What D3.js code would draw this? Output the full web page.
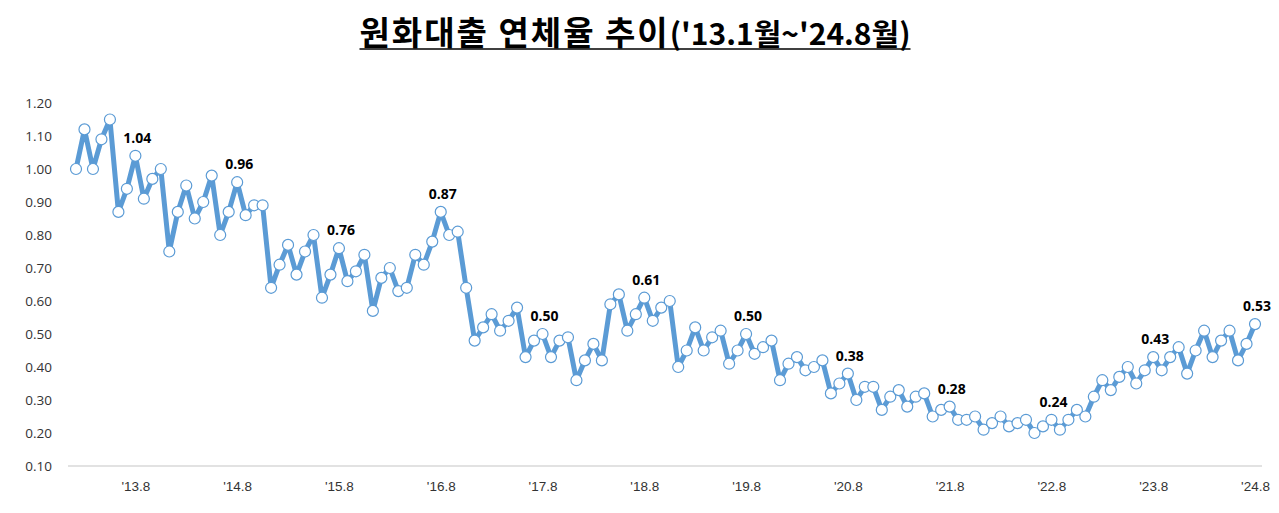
<!DOCTYPE html>
<html><head><meta charset="utf-8">
<script src="https://cdn.jsdelivr.net/npm/d3@7"></script>
<style>body{margin:0;background:#fff;}svg{display:block;}</style>
</head><body>
<svg id="c" width="1279" height="513"></svg>
<script>
// Data: delinquency rate (%) monthly, '13.1 ~ '24.8
const v2013 = [1.00,1.12,1.00,1.09,1.15,0.87,0.94,1.04,0.91,0.97,1.00,0.75];
const v2014 = [0.87,0.95,0.85,0.90,0.98,0.80,0.87,0.96,0.86,0.89,0.89,0.64];
const v2015 = [0.71,0.77,0.68,0.75,0.80,0.61,0.68,0.76,0.66,0.69,0.74,0.57];
const v2016 = [0.67,0.70,0.63,0.64,0.74,0.71,0.78,0.87,0.80,0.81,0.64,0.48];
const v2017 = [0.52,0.56,0.51,0.54,0.58,0.43,0.48,0.50,0.43,0.48,0.49,0.36];
const v2018 = [0.42,0.47,0.42,0.59,0.62,0.51,0.56,0.61,0.54,0.58,0.60,0.40];
const v2019 = [0.45,0.52,0.45,0.49,0.51,0.41,0.45,0.50,0.44,0.46,0.48,0.36];
const v2020 = [0.41,0.43,0.39,0.40,0.42,0.32,0.35,0.38,0.30,0.34,0.34,0.27];
const v2021 = [0.31,0.33,0.28,0.31,0.32,0.25,0.27,0.28,0.24,0.24,0.25,0.21];
const v2022 = [0.23,0.25,0.22,0.23,0.24,0.20,0.22,0.24,0.21,0.24,0.27,0.25];
const v2023 = [0.31,0.36,0.33,0.37,0.40,0.35,0.39,0.43,0.39,0.43,0.46,0.38];
const v2024 = [0.45,0.51,0.43,0.48,0.51,0.42,0.47,0.53];
const years = [2013,2014,2015,2016,2017,2018,2019,2020,2021,2022,2023,2024];
const values = [].concat(v2013,v2014,v2015,v2016,v2017,v2018,v2019,v2020,v2021,v2022,v2023,v2024);
const periods = [];
years.forEach(y => { for (let m = 1; m <= 12; m++) periods.push(String(y).slice(2) + "." + m); });
periods.length = values.length;
const tickPeriods = ["13.8","14.8","15.8","16.8","17.8","18.8","19.8","20.8","21.8","22.8","23.8","24.8"];
const tickLabels = ["'13.8","'14.8","'15.8","'16.8","'17.8","'18.8","'19.8","'20.8","'21.8","'22.8","'23.8","'24.8"];
const yTicks = [0.10,0.20,0.30,0.40,0.50,0.60,0.70,0.80,0.90,1.00,1.10,1.20];
const labeled = tickPeriods; // August points carry value labels

const svg = d3.select("#c");
const blue = "#5B9BD5";

const x = d3.scalePoint().domain(periods).range([76, 1255]);
const y = d3.scaleLinear().domain([0.10, 1.20]).range([466, 103]);

// title
const title = svg.append("text").attr("x", 635).attr("y", 45)
  .attr("text-anchor", "middle").attr("font-weight", "bold").attr("fill", "#000");
title.append("tspan").attr("font-family", "'Noto Sans CJK KR', sans-serif").attr("font-size", 33)
  .attr("letter-spacing", 2).text("원화대출 연체율 추이");
title.append("tspan").attr("font-family", "'Liberation Sans Narrow','Noto Sans CJK KR', sans-serif").attr("font-size", 30)
  .text("('13.1월~'24.8월)");
const bb = title.node().getBBox();
svg.append("line").attr("x1", bb.x).attr("x2", bb.x + bb.width).attr("y1", 49).attr("y2", 49)
  .attr("stroke", "#000").attr("stroke-width", 1.5);

// y axis labels
const yAxis = d3.axisLeft(y).tickValues(yTicks).tickFormat(d3.format(".2f")).tickSize(0).tickPadding(0);
const gy = svg.append("g").attr("transform", "translate(52,0)").call(yAxis);
gy.select(".domain").remove();
gy.selectAll("text").attr("font-family", "'Open Sans', sans-serif").attr("font-size", 13.5).attr("fill", "#333");

// x axis
const xAxis = d3.axisBottom(x).tickValues(tickPeriods).tickFormat((d, i) => tickLabels[i]).tickSize(0).tickPadding(15);
const gx = svg.append("g").attr("transform", "translate(0,466)").call(xAxis);
gx.select(".domain").remove();
gx.selectAll("text").attr("font-family", "'Liberation Sans Narrow', 'Liberation Sans', sans-serif").attr("font-size", 13.5).attr("fill", "#333");
svg.append("line").attr("x1", 68).attr("x2", 1262).attr("y1", y(0.10)).attr("y2", y(0.10))
  .attr("stroke", "#D9D9D9").attr("stroke-width", 1.5);

// line
const line = d3.line().x((d, i) => x(periods[i])).y(d => y(d));
svg.append("path").datum(values).attr("d", line).attr("fill", "none")
  .attr("stroke", blue).attr("stroke-width", 5).attr("stroke-linejoin", "round");

// markers
svg.append("g").selectAll("circle").data(values).join("circle")
  .attr("cx", (d, i) => x(periods[i])).attr("cy", d => y(d)).attr("r", 5.5)
  .attr("fill", "#fff").attr("stroke", blue).attr("stroke-width", 1.2);

// value labels
const lab = values.map((v, i) => ({v, p: periods[i]})).filter(d => labeled.includes(d.p));
svg.append("g").selectAll("text").data(lab).join("text")
  .attr("x", d => x(d.p) + 2).attr("y", d => y(d.v) - 13)
  .attr("text-anchor", "middle").attr("font-family", "'Open Sans', sans-serif")
  .attr("font-weight", "bold").attr("font-size", 14).attr("fill", "#000")
  .text(d => d3.format(".2f")(d.v));
</script>
</body></html>
